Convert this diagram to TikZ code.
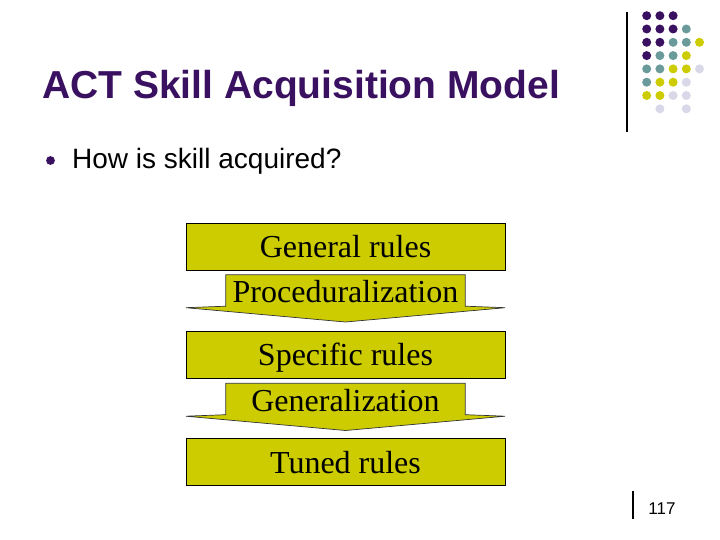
\documentclass[tikz,border=0pt]{standalone}
\usepackage{fontspec}
\usetikzlibrary{calc}
\setmainfont{Liberation Serif}
\newfontfamily\arialf{Liberation Sans}
\definecolor{slidepurple}{RGB}{58,16,96}
\definecolor{boxyellow}{RGB}{204,204,0}
\definecolor{dotteal}{RGB}{106,154,154}
\definecolor{dotlav}{RGB}{216,216,232}
\tikzset{
  x=1pt, y=-1pt,
  rulebox/.style={draw=black, line width=0.7pt, fill=boxyellow, minimum width=319pt, minimum height=47pt, inner sep=0pt},
  callbody/.style={minimum width=239pt, minimum height=31pt, inner sep=0pt},
  boxtext/.style={anchor=base, inner sep=0pt, font=\fontsize{32}{36}\selectfont},
  callshape/.style={draw=black!80, line width=0.7pt, fill=boxyellow, line join=miter},
  dotP/.style={fill=slidepurple},
  dotT/.style={fill=dotteal},
  dotY/.style={fill=boxyellow},
  dotL/.style={fill=dotlav},
  dotN/.style={},
}
\begin{document}
\begin{tikzpicture}
\useasboundingbox (0,0) rectangle (720,540);
% decoration dots
\foreach \r/\row in {0/{P,P,P,N,N},1/{P,P,P,T,N},2/{P,P,T,T,Y},3/{P,T,T,Y,N},4/{T,T,Y,Y,L},5/{T,Y,Y,L,N},6/{Y,Y,L,L,N},7/{N,L,N,L,N}}{
  \foreach \c [count=\i from 0] in \row {
    \path[dot\c] ({646.7+13.2*\i},{15.7+13.3*\r}) circle (4.5);
  }
}
\draw[line width=1.2pt] (627,12) -- (627,132);
\draw[line width=1.2pt] (633,491) -- (633,519);
% title and bullet
\node[anchor=base west, inner sep=0pt, text=slidepurple, font=\arialf\bfseries\fontsize{39}{44}\selectfont] (title) at (42,98.5) {ACT Skill Acquisition Model};
\fill[slidepurple] (50.5,160.5) circle (4.4);
\node[anchor=base west, inner sep=0pt, font=\arialf\fontsize{28}{32}\selectfont] (q) at (72,169) {How is skill acquired?};
\node[anchor=base, inner sep=0pt, font=\arialf\fontsize{17}{20}\selectfont] (pg) at (662,514) {117};
% rule boxes
\node[rulebox] (gen) at (345.5,246.5) {};
\node[rulebox] (spec) at (345.5,354.5) {};
\node[rulebox] (tuned) at (345.5,462) {};
% callout arrows
\coordinate (proctip) at (345.5,322);
\coordinate (gentip) at (345.5,430.5);
\node[callbody] (proc) at (345.5,290.5) {};
\node[callbody] (gnl) at (345.5,399) {};
\draw[callshape] (proc.north west) -- (proc.north east) -- (proc.south east) -- ++(40,1.5) -- (proctip) -- ($(proc.south west)+(-40,1.5)$) -- (proc.south west) -- cycle;
\draw[callshape] (gnl.north west) -- (gnl.north east) -- (gnl.south east) -- ++(40,1.5) -- (gentip) -- ($(gnl.south west)+(-40,1.5)$) -- (gnl.south west) -- cycle;
% texts
\node[boxtext] at ($(gen.center)+(0,11)$) {General rules};
\node[boxtext] at ($(spec.center)+(0,11)$) {Specific rules};
\node[boxtext] at ($(tuned.center)+(0,11)$) {Tuned rules};
\node[boxtext] at ($(proc.center)+(0,12)$) {Proceduralization};
\node[boxtext] at ($(gnl.center)+(0,12)$) {Generalization};
\end{tikzpicture}
\end{document}
